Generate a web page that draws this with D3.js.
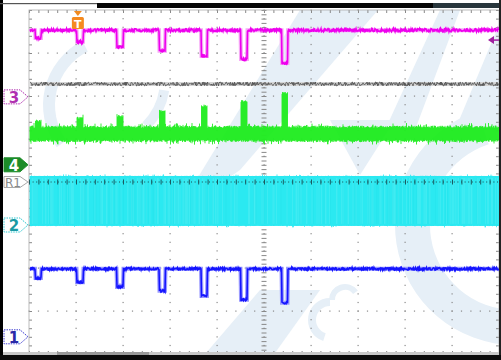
<!DOCTYPE html>
<html><head><meta charset="utf-8">
<script src="https://cdn.jsdelivr.net/npm/d3@7"></script>
<style>html,body{margin:0;padding:0;background:#fff;}svg{display:block;}</style>
</head><body><svg id="c" width="501" height="360"></svg>
<script>
// ---- data (time in divisions, level in divisions) ----
const pulseTimes = [0.13, 1.02, 1.87, 2.77, 3.66, 4.51, 5.38];
const pulseWidth = 0.13;
const ch3Base = 3.53;
const ch3Low = [3.35, 3.26, 3.14, 3.05, 2.93, 2.86, 2.77];
const refBase = 2.28;
const ch4Base = 1.12;
const ch4High = [1.26, 1.33, 1.37, 1.49, 1.60, 1.72, 1.91];
const ch2Top = 0.14, ch2Bottom = -1.02;
const ch1Base = -2.02;
const ch1Low = [-2.23, -2.33, -2.44, -2.53, -2.65, -2.74, -2.81];
const markerLabels = ["3", "4", "R1", "2", "1"];
const markerLevels = [1.98, 0.40, 0.0, -1.0, -3.6];
const triggerTime = 1.04, triggerLevel = 3.30;

const svg = d3.select("#c");
const X0 = 29, X1 = 499, Y0 = 10, Y1 = 354;
const x = d3.scaleLinear([0, 10], [X0, X1]);
const y = d3.scaleLinear([-4, 4], [Y1, Y0]);

// deterministic texture jitter (visual noise only)
function jit(i, s) { const v = Math.sin(i * 12.9898 + s * 78.233) * 43758.5453; return (v - Math.floor(v)) * 2 - 1; }

// ---- watermark ----
const wm = svg.append("g").attr("fill", "#e6eff7");
wm.append("path").attr("d", "M300,10 L378,10 L240,170 L175,215 Z");
wm.append("path").attr("d", "M385,130 L415,130 L460,10 L440,10 Z");
wm.append("path").attr("d", "M455,130 L501,130 L501,20 Z");
wm.append("path").attr("d", "M330,120 L395,120 L360,175 Z");
wm.append("path").attr("d", "M200,360 L270,360 L320,290 L260,290 Z");
wm.append("path").attr("d", d3.arc()({innerRadius: 85, outerRadius: 120, startAngle: Math.PI*1.0, endAngle: Math.PI*1.9})).attr("transform", "translate(515,225)");
wm.append("path").attr("d", d3.arc()({innerRadius: 60, outerRadius: 72, startAngle: Math.PI*1.3, endAngle: Math.PI*1.85})).attr("transform", "translate(115,105)");
wm.append("path").attr("d", d3.arc()({innerRadius: 60, outerRadius: 70, startAngle: Math.PI*0.55, endAngle: Math.PI*0.75})).attr("transform", "translate(100,80)");
wm.append("path").attr("d", d3.arc()({innerRadius: 12, outerRadius: 19, startAngle: Math.PI*1.2, endAngle: Math.PI*2.1})).attr("transform", "translate(225,205)");
wm.append("path").attr("d", d3.arc()({innerRadius: 14, outerRadius: 22, startAngle: Math.PI*1.1, endAngle: Math.PI*2.0})).attr("transform", "translate(330,320)");
wm.append("path").attr("d", d3.arc()({innerRadius: 10, outerRadius: 16, startAngle: Math.PI*1.5, endAngle: Math.PI*2.3})).attr("transform", "translate(345,300)");

// ---- grid ----
const grid = svg.append("g").attr("fill", "#8a8a8a");
const minorX = d3.range(0, 10.001, 0.2), minorY = d3.range(-4, 4.001, 0.2);
for (let i = 1; i < 10; i++) {
  minorY.forEach(v => grid.append("rect").attr("x", x(i) - 0.5).attr("y", y(v) - 0.5).attr("width", 1.2).attr("height", 1.2));
}
for (let j = -3; j <= 3; j++) {
  minorX.forEach(v => grid.append("rect").attr("x", x(v) - 0.5).attr("y", y(j) - 0.5).attr("width", 1.2).attr("height", 1.2));
}
const fmt = () => "";
function styleAx(g) { g.select(".domain").remove(); g.selectAll(".tick line").attr("stroke", "#888").attr("stroke-width", 1); }
svg.append("g").attr("transform", `translate(0,${Y0})`).call(d3.axisBottom(x).ticks(50).tickSize(3).tickFormat(fmt)).call(styleAx);
svg.append("g").attr("transform", `translate(0,${Y1})`).call(d3.axisTop(x).ticks(50).tickSize(3).tickFormat(fmt)).call(styleAx);
svg.append("g").attr("transform", `translate(${X0},0)`).call(d3.axisRight(y).ticks(40).tickSize(3).tickFormat(fmt)).call(styleAx);
svg.append("g").attr("transform", `translate(${X1},0)`).call(d3.axisLeft(y).ticks(40).tickSize(3).tickFormat(fmt)).call(styleAx);
svg.append("g").attr("transform", `translate(${x(5) - 2.5},0)`).call(d3.axisRight(y).ticks(80).tickSize(5).tickFormat(fmt)).call(styleAx);
svg.append("g").attr("transform", `translate(0,${y(0) - 2.5})`).call(d3.axisBottom(x).ticks(100).tickSize(5).tickFormat(fmt)).call(styleAx);
svg.append("rect").attr("x", X0).attr("y", Y0).attr("width", X1 - X0).attr("height", Y1 - Y0).attr("fill", "none").attr("stroke", "#aaa").attr("stroke-width", 0.8);

// ---- helpers ----
const step = 0.5;
const samples = d3.range(X0 + 1, X1, step);
function levelAt(px, base, arr) {
  const t = x.invert(px);
  for (let k = 0; k < pulseTimes.length; k++) if (t >= pulseTimes[k] && t <= pulseTimes[k] + pulseWidth) return arr[k];
  return base;
}
function drawTrace(base, arr, main, light, amp, seed, width) {
  const pts = samples.map((px, i) => [px, y(levelAt(px, base, arr)) + jit(i, seed) * amp]);
  const line = d3.line();
  svg.append("path").attr("d", line(samples.map(px => [px, y(levelAt(px, base, arr))]))).attr("fill", "none").attr("stroke", light).attr("stroke-width", 4);
  svg.append("path").attr("d", line(pts)).attr("fill", "none").attr("stroke", main).attr("stroke-width", width);
}
function drawBand(topF, botF, color, seed, amp, w) {
  let d = "";
  samples.forEach((px, i) => {
    const t = topF(px) - Math.abs(jit(i, seed)) * amp * (jit(i, seed + 7) > 0.7 ? 2.2 : 1);
    const b = botF(px) + Math.abs(jit(i, seed + 3)) * amp * (jit(i, seed + 9) > 0.7 ? 2.2 : 1);
    d += `M${px},${t}V${b}`;
  });
  svg.append("path").attr("d", d).attr("stroke", color).attr("stroke-width", w || 0.8).attr("fill", "none");
}

// ---- ch3 (magenta) ----
drawTrace(ch3Base, ch3Low, "#ee00ee", "#f6a8f6", 1.6, 1, 1.6);
// ---- reference (gray) ----
drawTrace(refBase, pulseTimes.map(() => refBase), "#4a4a4a", "#d4d4d4", 2.0, 2, 0.8);
// ---- ch4 (green): the band top rises during each pulse ----
drawBand(px => y(levelAt(px, ch4Base, ch4High)) - 6, px => y(ch4Base) + 6, "#22ec22", 4, 2.2, 0.9);
// ---- ch2 (cyan) ----
svg.append("rect").attr("x", X0 + 1).attr("y", y(ch2Top)).attr("width", X1 - X0 - 1).attr("height", y(ch2Bottom) - y(ch2Top)).attr("fill", "#2ce9f1");
drawBand(() => y(ch2Top) + 1, () => y(ch2Bottom) - 1, "#2ce9f1", 5, 1.2);
let streaks = "";
samples.forEach((px, i) => { if (jit(i, 11) > 0.6) streaks += `M${px},${y(ch2Top) + 2}V${y(ch2Bottom) - 2}`; });
svg.append("path").attr("d", streaks).attr("stroke", "#6ef2f7").attr("stroke-width", 0.6).attr("opacity", 0.45);
let streaks2 = "";
samples.forEach((px, i) => { if (jit(i, 13) > 0.85) streaks2 += `M${px},${y(ch2Top) + 2}V${y(ch2Bottom) - 2}`; });
svg.append("path").attr("d", streaks2).attr("stroke", "#1cdce6").attr("stroke-width", 0.6).attr("opacity", 0.35);
// R1 dotted level
svg.append("line").attr("x1", X0).attr("x2", X1).attr("y1", y(0)).attr("y2", y(0)).attr("stroke", "#1a4a50").attr("stroke-width", 1).attr("stroke-dasharray", "1,2.6");
svg.append("g").attr("transform", `translate(0,${y(0) - 2.5})`).call(d3.axisBottom(x).ticks(50).tickSize(5).tickFormat(fmt)).call(g => { g.select(".domain").remove(); g.selectAll(".tick line").attr("stroke", "#1a5a60"); });
// ---- ch1 (blue) ----
drawTrace(ch1Base, ch1Low, "#1414ff", "#9a9aff", 1.3, 6, 1.6);

// ---- frame ----
svg.append("rect").attr("x", 0).attr("y", 0).attr("width", 3).attr("height", 360).attr("fill", "#000");
svg.append("rect").attr("x", 0).attr("y", 3).attr("width", 97).attr("height", 1.2).attr("fill", "#555");
svg.append("rect").attr("x", 97).attr("y", 3).attr("width", 336).attr("height", 5).attr("fill", "#050505");
svg.append("rect").attr("x", 433).attr("y", 3).attr("width", 68).attr("height", 5).attr("fill", "#28363c");
svg.append("rect").attr("x", 499).attr("y", 0).attr("width", 2).attr("height", 360).attr("fill", "#222");
svg.append("rect").attr("x", 3).attr("y", 352).attr("width", 496).attr("height", 3).attr("fill", "#c8c8c8");
svg.append("rect").attr("x", 57).attr("y", 352).attr("width", 92).attr("height", 3).attr("fill", "#9a9a9a");
svg.append("rect").attr("x", 0).attr("y", 355).attr("width", 501).attr("height", 5).attr("fill", "#0a0a0a");

// ---- channel markers ----
const mStyles = [
  {fill: "#fff", stroke: "#b030b0", text: "#b030b0", dash: "1.5,1"},
  {fill: "#1c8c28", stroke: "#1c8c28", text: "#fff", dash: null},
  {fill: "#fff", stroke: "#a8a8a8", text: "#8a8a8a", dash: null},
  {fill: "#fff", stroke: "#30c8d0", text: "#1a9aa4", dash: "1.5,1"},
  {fill: "#fff", stroke: "#4040d0", text: "#2a2aa8", dash: "1.5,1"}
];
markerLabels.forEach((lab, k) => {
  const cy = y(markerLevels[k]), s = mStyles[k];
  const h = lab === "R1" ? 5.5 : 7;
  svg.append("path").attr("d", `M4,${cy - h}L20,${cy - h}L28,${cy}L20,${cy + h}L4,${cy + h}Z`)
    .attr("fill", s.fill).attr("stroke", s.stroke).attr("stroke-width", 1).attr("stroke-dasharray", s.dash);
  svg.append("text").attr("x", lab === "R1" ? 13 : 14).attr("y", cy + (lab === "R1" ? 4.5 : 6))
    .attr("text-anchor", "middle").attr("font-family", "DejaVu Sans, sans-serif")
    .attr("font-weight", lab === "R1" ? "normal" : "bold").attr("font-size", lab === "R1" ? 12 : 15)
    .attr("fill", s.text).text(lab);
});

// ---- trigger markers ----
const tx = x(triggerTime);
svg.append("path").attr("d", `M${tx - 4},${Y0 + 1}L${tx + 4},${Y0 + 1}L${tx},${Y0 + 6}Z`).attr("fill", "#f08a20");
svg.append("rect").attr("x", tx - 6).attr("y", Y0 + 7).attr("width", 12).attr("height", 12).attr("rx", 1.5).attr("fill", "#f58a1f");
svg.append("text").attr("x", tx).attr("y", Y0 + 17.5).attr("text-anchor", "middle").attr("font-family", "DejaVu Sans, sans-serif")
  .attr("font-weight", "bold").attr("font-size", 11).attr("fill", "#fff").text("T");
const ty = y(triggerLevel);
svg.append("path").attr("d", `M${X1 - 11},${ty}L${X1 - 5},${ty - 4}L${X1 - 5},${ty + 4}Z`).attr("fill", "#a020a0");
svg.append("line").attr("x1", X1 - 5).attr("x2", X1).attr("y1", ty).attr("y2", ty).attr("stroke", "#a020a0").attr("stroke-width", 1.5);
</script></body></html>
